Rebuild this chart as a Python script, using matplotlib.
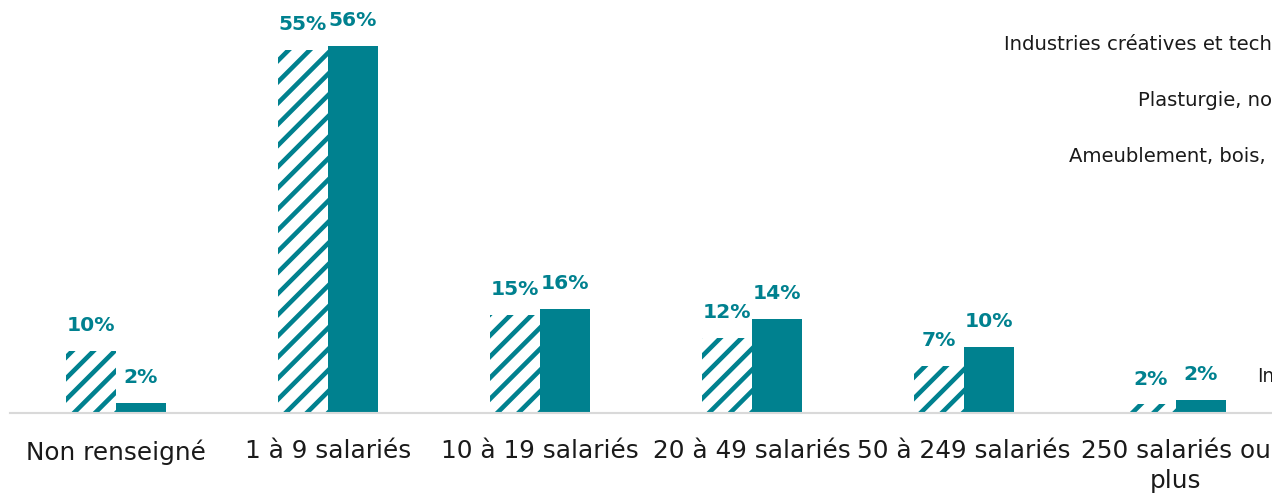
import numpy as np
import matplotlib
matplotlib.use("Agg")
import matplotlib.pyplot as plt

# Data (shares by company size)
categories = ["Non renseigné", "1 à 9 salariés", "10 à 19 salariés",
              "20 à 49 salariés", "50 à 249 salariés", "250 salariés ou\nplus"]
hatched_vals = [9.5, 55.4, 15.0, 11.5, 7.2, 1.3]
hatched_labels = ["10%", "55%", "15%", "12%", "7%", "2%"]
solid_vals = [1.6, 56.0, 15.9, 14.3, 10.1, 2.0]
solid_labels = ["2%", "56%", "16%", "14%", "10%", "2%"]

# leftover labels of a neighbouring chart, clipped at the right edge
side_texts = ["Industries créatives et tech", "Plasturgie, no",
              "Ameublement, bois,", "In"]

teal = "#00818F"
plt.rcParams["font.family"] = ["DejaVu Sans"]
plt.rcParams["hatch.linewidth"] = 2.6
plt.rcParams["hatch.color"] = teal

dpi = 127.2
fig = plt.figure(figsize=(1272 / dpi, 495 / dpi), dpi=dpi)
W, H = 1272, 495
# axes: x from -0.5 at px 10 to 5.5 at px 1282, baseline at px 413, top at px 20
ax = fig.add_axes([10 / W, 82 / H, 1272 / W, 393 / H])

x = np.arange(len(categories))
bw = 0.236
ax.bar(x - bw / 2, hatched_vals, bw, color="white", edgecolor=teal, hatch="//", linewidth=0)
ax.bar(x + bw / 2, solid_vals, bw, color=teal, linewidth=0)

for i in range(len(categories)):
    ax.annotate(hatched_labels[i], (x[i] - bw / 2, hatched_vals[i]), xytext=(0, 9),
                textcoords="offset points", ha="center", va="bottom",
                color=teal, fontsize=11.5, fontweight="bold")
    ax.annotate(solid_labels[i], (x[i] + bw / 2, solid_vals[i]), xytext=(0, 9),
                textcoords="offset points", ha="center", va="bottom",
                color=teal, fontsize=11.5, fontweight="bold")

ax.set_xlim(-0.5, 5.5)
ax.set_ylim(0, 60)
ax.set_xticks(x)
ax.set_xticklabels(categories, fontsize=14, color="#1a1a1a", linespacing=1.3)
ax.tick_params(axis="x", length=0, pad=15)
ax.set_yticks([])
for s in ["left", "right", "top"]:
    ax.spines[s].set_visible(False)
ax.spines["bottom"].set_color("#D9D9D9")
ax.spines["bottom"].set_linewidth(1.2)

# clipped texts at the right
fig.text(1004 / W, 1 - 45 / H, side_texts[0], fontsize=11.1, color="#1a1a1a", va="center")
fig.text(1138 / W, 1 - 100 / H, side_texts[1], fontsize=11.1, color="#1a1a1a", va="center")
fig.text(1069 / W, 1 - 156 / H, side_texts[2], fontsize=11.1, color="#1a1a1a", va="center")
fig.text(1257 / W, 1 - 377 / H, side_texts[3], fontsize=10.5, color="#1a1a1a", va="center")

fig.savefig("out.png", dpi=dpi)
